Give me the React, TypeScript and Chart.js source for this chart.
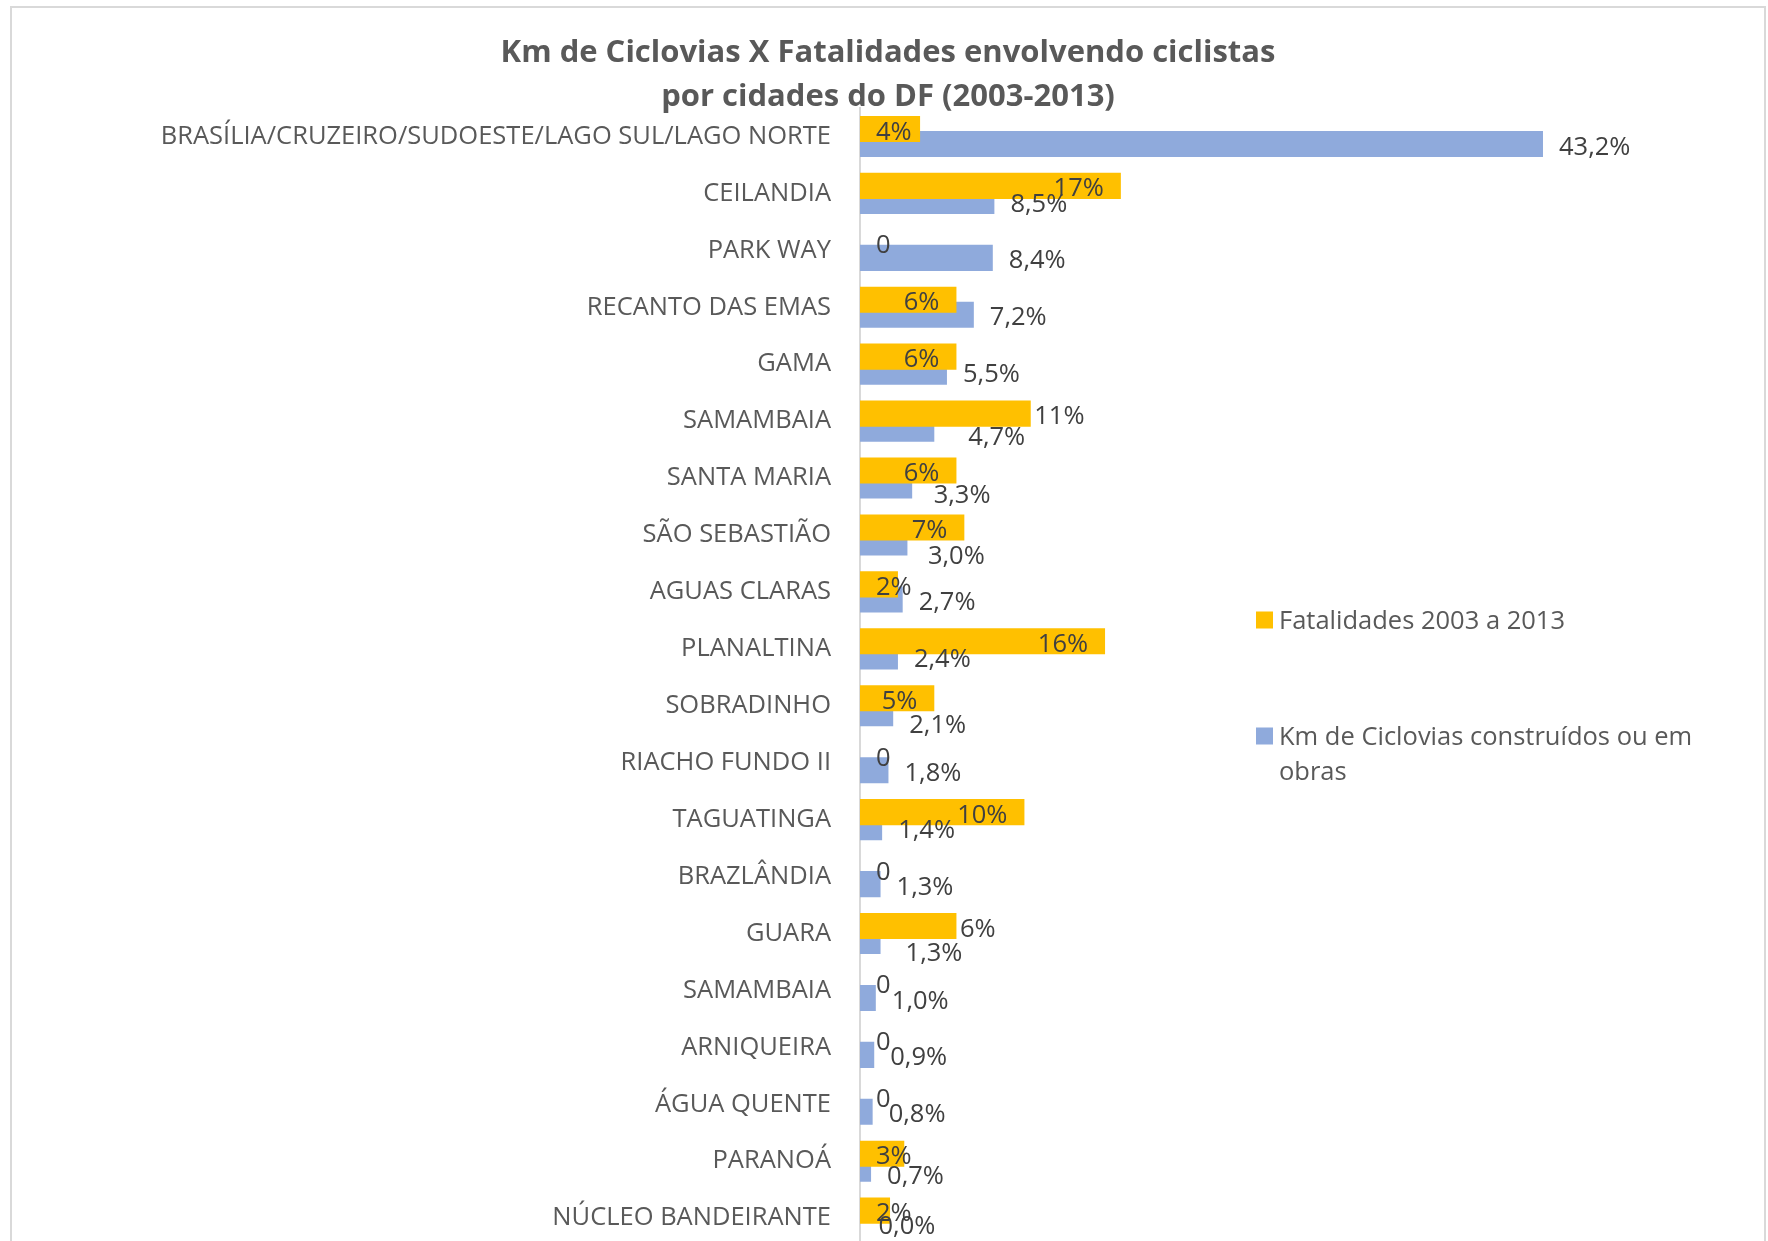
import React, { useEffect, useRef } from 'react';
import { Chart, registerables } from 'chart.js';

Chart.register(...registerables);

const FONT = "'Open Sans', 'Noto Sans', sans-serif";

const titleLines = [
  'Km de Ciclovias X Fatalidades envolvendo ciclistas',
  'por cidades do DF (2003-2013)',
];

const categories = [
  'BRASÍLIA/CRUZEIRO/SUDOESTE/LAGO SUL/LAGO NORTE',
  'CEILANDIA',
  'PARK WAY',
  'RECANTO DAS EMAS',
  'GAMA',
  'SAMAMBAIA',
  'SANTA MARIA',
  'SÃO SEBASTIÃO',
  'AGUAS CLARAS',
  'PLANALTINA',
  'SOBRADINHO',
  'RIACHO FUNDO II',
  'TAGUATINGA',
  'BRAZLÂNDIA',
  'GUARA',
  'SAMAMBAIA',
  'ARNIQUEIRA',
  'ÁGUA QUENTE',
  'PARANOÁ',
  'NÚCLEO BANDEIRANTE',
];

const seriesNames = ['Fatalidades 2003 a 2013', 'Km de Ciclovias construídos ou em obras'];

// percentage values
const fatalidades = [3.8, 16.5, 0, 6.1, 6.1, 10.8, 6.1, 6.6, 2.4, 15.5, 4.7, 0, 10.4, 0, 6.1, 0, 0, 0, 2.8, 1.9];
const kmCiclovias = [43.2, 8.5, 8.4, 7.2, 5.5, 4.7, 3.3, 3.0, 2.7, 2.4, 2.1, 1.8, 1.4, 1.3, 1.3, 1.0, 0.9, 0.8, 0.7, 0.0];

const seriesColors = ['#FFC000', '#8FAADC'];

// label placement styling (Excel manual label moves)
const fatalLabelOutside = [5, 14];
const kmLabelNudge: Record<number, [number, number]> = {
  5: [18, 5.5],
  6: [5.5, 6.5],
  7: [4.5, 10.5],
  10: [0, 9],
  14: [9, 9.5],
  18: [0, 5],
  19: [2.5, -2],
};

const CANVAS_W = 1752;
const CANVAS_H = 1250;
const LABEL_SIZE = 25.5;

const valueLabels = {
  id: 'valueLabels',
  afterDatasetsDraw(chart: any) {
    const ctx = chart.ctx;
    const size = LABEL_SIZE;
    const capHalf = size * 0.357;
    ctx.save();
    ctx.font = `${size}px ${FONT}`;
    ctx.fillStyle = '#404040';
    ctx.textAlign = 'left';
    ctx.textBaseline = 'alphabetic';
    const m1 = chart.getDatasetMeta(1);
    m1.data.forEach((bar: any, i: number) => {
      const p = bar.getProps(['x', 'y', 'base'], true);
      const v = kmCiclovias[i];
      const txt = v.toFixed(1).replace('.', ',') + '%';
      const [dx, dy] = kmLabelNudge[i] || [0, 0];
      ctx.fillText(txt, p.x + 16 + dx, p.y + 1.5 + dy + capHalf);
    });
    const m0 = chart.getDatasetMeta(0);
    m0.data.forEach((bar: any, i: number) => {
      const p = bar.getProps(['x', 'y', 'base'], true);
      const v = fatalidades[i];
      const txt = v === 0 ? '0' : Math.round(v) + '%';
      const w = ctx.measureText(txt).width;
      let x: number;
      if (fatalLabelOutside.includes(i)) x = p.x + 3.5;
      else x = Math.max(p.x - 17 - w, p.base + 16);
      ctx.fillText(txt, x, p.y + 1.5 + capHalf);
    });
    ctx.restore();
  },
};

const titleAndLegend = {
  id: 'titleAndLegend',
  afterDraw(chart: any) {
    const ctx = chart.ctx;
    ctx.save();
    // title
    ctx.font = `bold 31px ${FONT}`;
    ctx.fillStyle = '#595959';
    ctx.textAlign = 'center';
    ctx.textBaseline = 'alphabetic';
    const cx = chart.width / 2;
    titleLines.forEach((t, i) => ctx.fillText(t, cx, 54 + i * 44));

    // legend
    const lx = 1244;
    const box = 17;
    const textX = 1267;
    const maxW = 430;
    const lineH = 35;
    const itemCenters = [612, 728];
    ctx.font = `${LABEL_SIZE}px ${FONT}`;
    ctx.textAlign = 'left';
    seriesNames.forEach((name, i) => {
      const cy = itemCenters[i];
      ctx.fillStyle = seriesColors[i];
      ctx.fillRect(lx, cy - box / 2, box, box);
      const words = name.split(' ');
      const lines: string[] = [];
      let cur = '';
      words.forEach((w) => {
        const test = cur ? cur + ' ' + w : w;
        if (ctx.measureText(test).width > maxW && cur) {
          lines.push(cur);
          cur = w;
        } else cur = test;
      });
      if (cur) lines.push(cur);
      ctx.fillStyle = '#595959';
      lines.forEach((ln, j) => ctx.fillText(ln, textX, cy + 9 + j * lineH));
    });
    ctx.restore();
  },
};

export default function App() {
  const ref = useRef<HTMLCanvasElement | null>(null);

  useEffect(() => {
    if (!ref.current) return;
    const chart = new Chart(ref.current, {
      type: 'bar',
      data: {
        labels: categories,
        datasets: [
          {
            label: seriesNames[0],
            data: fatalidades,
            backgroundColor: seriesColors[0],
            borderWidth: 0,
          },
          {
            label: seriesNames[1],
            data: kmCiclovias,
            backgroundColor: seriesColors[1],
            borderWidth: 0,
          },
        ],
      },
      options: {
        indexAxis: 'y',
        responsive: false,
        animation: false,
        devicePixelRatio: 1,
        layout: { padding: { top: 100, right: 113.5, bottom: 11.4, left: 0 } },
        datasets: { bar: { categoryPercentage: 0.529, barPercentage: 1.733 } },
        scales: {
          x: { display: false, min: 0, max: 50 },
          y: {
            grid: { display: false, drawTicks: false },
            border: { display: true, color: '#d9d9d9', width: 2 },
            ticks: {
              autoSkip: false,
              padding: 29,
              color: '#595959',
              font: { family: FONT, size: LABEL_SIZE },
            },
            afterFit: (s: any) => {
              s.width = 848;
              s.paddingTop = 0;
              s.paddingBottom = 0;
            },
          },
        },
        plugins: {
          legend: { display: false },
          title: { display: false },
          tooltip: { enabled: false },
        },
      } as any,
      plugins: [valueLabels, titleAndLegend],
    });
    return () => chart.destroy();
  }, []);

  return (
    <div
      style={{
        position: 'fixed',
        left: 0,
        top: 0,
        width: 1768,
        height: 1241,
        overflow: 'hidden',
        background: '#ffffff',
      }}
    >
      <div
        style={{
          position: 'absolute',
          left: 10,
          top: 6,
          width: 1756,
          height: 1300,
          border: '2px solid #d9d9d9',
          boxSizing: 'border-box',
          background: '#ffffff',
        }}
      >
        <canvas
          ref={ref}
          width={CANVAS_W}
          height={CANVAS_H}
          style={{ display: 'block', width: CANVAS_W, height: CANVAS_H }}
        />
      </div>
    </div>
  );
}
